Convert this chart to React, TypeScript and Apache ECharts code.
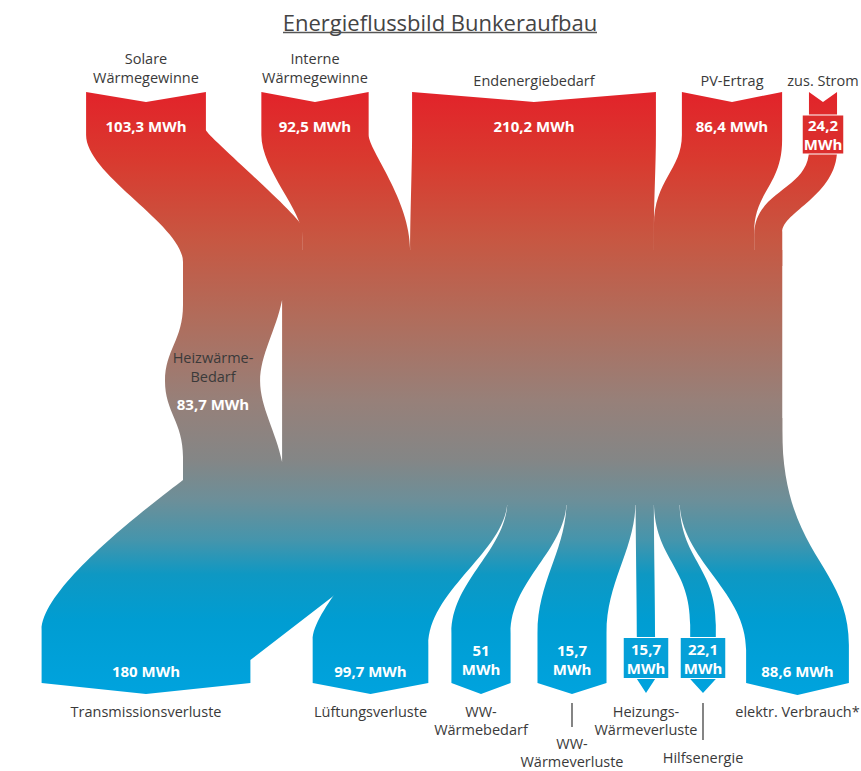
import React, { useEffect, useRef } from "react";
import * as echarts from "echarts";

// ---------------- data ----------------
const chartTitle = "Energieflussbild Bunkeraufbau";
const unit = "MWh";

const inputNames = ["Solare\nWärmegewinne", "Interne\nWärmegewinne", "Endenergiebedarf", "PV-Ertrag", "zus. Strom"];
const inputValues = [103.3, 92.5, 210.2, 86.4, 24.2];

const heatDemandName = "Heizwärme-\nBedarf";
const heatDemandValue = 83.7;

const outputNames = [
  "Transmissionsverluste",
  "Lüftungsverluste",
  "WW-\nWärmebedarf",
  "WW-\nWärmeverluste",
  "Heizungs-\nWärmeverluste",
  "Hilfsenergie",
  "elektr. Verbrauch*",
];
const outputValues = [180, 99.7, 51, 15.7, 15.7, 22.1, 88.6];

// ---------------- layout / style ----------------
const W = 861;
const H = 771;
const FONT = '"Open Sans", "Noto Sans", "DejaVu Sans", sans-serif';
const NAME_COLOR = "#3a3a3a";
const K = 1.16; // axis units per MWh
const TRUNK_LEFT = 183;
const TRUNK_TOP = 250;
const TRUNK_BOTTOM = 505;
const RIB_END = 266;
const TOP_Y = 92;
const TOP_DIP = 102;
const HEIZ_BULGE = 18;
const HEIZ_LABEL_X = 213;

type Edge = { ya: number; yb: number; d1: number; d2: number; dx1?: number; knee?: number };

const inCenters = [146, 315, 534, 732, 823];
const inLeft: Edge[] = [
  { ya: 135, yb: 262, d1: 40, d2: 37 },
  { ya: 135, yb: 238, d1: 35, d2: 28 },
  { ya: 135, yb: 250, d1: 30, d2: 30 },
  { ya: 135, yb: 225, d1: 35, d2: 45 },
  { ya: 150, yb: 235, d1: 40, d2: 45 },
];
const inRight: Edge[] = [
  { ya: 130, yb: 228, d1: 5, d2: 10 },
  { ya: 135, yb: 250, d1: 15, d2: 50 },
  { ya: 135, yb: 230, d1: 30, d2: 30 },
  { ya: 140, yb: 232, d1: 45, d2: 40 },
  { ya: 150, yb: 232, d1: 45, d2: 20 },
];
const inNameY = [67.5, 67.5, 80, 80, 80];
const inValueY = [126, 126, 126, 126, 134.5];
const inValueBreak = [false, false, false, false, true];

const outCenters = [146, 370.5, 481, 572, 646, 703, 797.5];
const FILL_INDEX = 3; // this output takes the remaining trunk width
const outLeft: Edge[] = [
  { ya: 480, yb: 630, d1: 18, d2: 45, dx1: -23 },
  { ya: 480, yb: 640, d1: 60, d2: 35 },
  { ya: 500, yb: 633, d1: 50, d2: 53 },
  { ya: 500, yb: 633, d1: 50, d2: 53 },
  { ya: 500, yb: 640, d1: 40, d2: 40 },
  { ya: 500, yb: 625, d1: 60, d2: 60 },
  { ya: 500, yb: 650, d1: 60, d2: 60 },
];
const outRight: Edge[] = [
  { ya: 480, yb: 660, d1: 0, d2: 0, knee: 551 },
  { ya: 500, yb: 645, d1: 50, d2: 55 },
  { ya: 500, yb: 633, d1: 50, d2: 53 },
  { ya: 500, yb: 633, d1: 50, d2: 53 },
  { ya: 500, yb: 640, d1: 40, d2: 40 },
  { ya: 500, yb: 625, d1: 60, d2: 60 },
  { ya: 430, yb: 645, d1: 125, d2: 80 },
];
const outCornerY = [683, 683, 683, 683, 679, 679, 683];
const outTipY = [694, 694, 694, 694, 693, 693, 695];
const outValueY = [671, 671, 659.5, 659.5, 658, 658, 671];
const outValueBreak = [false, false, true, true, true, true, false];
const outValueBox = [false, false, false, false, true, true, false];
const outNameY = [711, 711, 711, 743, 711, 757, 711];
const NAME_LH = 18.5;
const outConnector = [0, 0, 0, 24, 0, 37, 0];

const GRAD_Y0 = 92;
const GRAD_Y1 = 695;
const gradStops = [
  { offset: 0, color: "#e2232a" },
  { offset: 0.113, color: "#d93a2f" },
  { offset: 0.245, color: "#c75742" },
  { offset: 0.378, color: "#b06d5c" },
  { offset: 0.511, color: "#978079" },
  { offset: 0.61, color: "#848686" },
  { offset: 0.677, color: "#6c8f99" },
  { offset: 0.743, color: "#4595ac" },
  { offset: 0.8, color: "#0e98c3" },
  { offset: 0.876, color: "#009dd2" },
  { offset: 1, color: "#00a3de" },
];

// ---------------- helpers ----------------
const sum = (a: number[]) => a.reduce((s, v) => s + v, 0);
const fmt = (v: number) => String(v).replace(".", ",");

function pt(api: any, x: number, y: number) {
  const c = api.coord([x, y]);
  return c[0].toFixed(2) + " " + c[1].toFixed(2);
}

function grad(api: any) {
  const a = api.coord([0, GRAD_Y0])[1];
  const b = api.coord([0, GRAD_Y1])[1];
  return new echarts.graphic.LinearGradient(0, a, 0, b, gradStops, true);
}

function txt(
  api: any,
  x: number,
  y: number,
  text: string,
  o: { size: number; color: string; weight?: string; lh?: number; va?: string; bg?: string; border?: string; pad?: number[] }
) {
  const c = api.coord([x, y]);
  const style: any = {
    text,
    fill: o.color,
    fontSize: o.size,
    fontWeight: o.weight || "normal",
    fontFamily: FONT,
    align: "center",
    verticalAlign: o.va || "middle",
    lineHeight: o.lh || Math.round(o.size * 1.3),
  };
  if (o.bg) {
    style.backgroundColor = o.bg;
    style.padding = o.pad || [0, 1];
    if (o.border) {
      style.borderColor = o.border;
      style.borderWidth = 1;
    }
  }
  return { type: "text", x: c[0], y: c[1], z2: 50, style };
}

const outSlots: number[][] = (() => {
  const res: number[][] = [];
  let x = TRUNK_LEFT;
  for (let i = 0; i < FILL_INDEX; i++) {
    res[i] = [x, x + outputValues[i] * K];
    x += outputValues[i] * K;
  }
  let xr = TRUNK_LEFT + sum(inputValues) * K;
  for (let i = outputValues.length - 1; i > FILL_INDEX; i--) {
    res[i] = [xr - outputValues[i] * K, xr];
    xr -= outputValues[i] * K;
  }
  res[FILL_INDEX] = [x, xr];
  return res;
})();

// ---------------- render functions ----------------
const renderInput = (params: any, api: any) => {
  const i = params.dataIndex;
  const v = api.value(1);
  const w = v * K;
  const cx = inCenters[i];
  const x0 = cx - w / 2;
  const x1 = cx + w / 2;
  const s0 = TRUNK_LEFT + sum(inputValues.slice(0, i)) * K;
  const s1 = s0 + w;
  const L = inLeft[i];
  const R = inRight[i];
  const d =
    `M${pt(api, x0, TOP_Y)} L${pt(api, cx, TOP_DIP)} L${pt(api, x1, TOP_Y)} L${pt(api, x1, R.ya)} ` +
    `C${pt(api, x1, R.ya + R.d1)} ${pt(api, s1, R.yb - R.d2)} ${pt(api, s1, R.yb)} ` +
    `L${pt(api, s1, RIB_END)} L${pt(api, s0, RIB_END)} L${pt(api, s0, L.yb)} ` +
    `C${pt(api, s0, L.yb - L.d2)} ${pt(api, x0, L.ya + L.d1)} ${pt(api, x0, L.ya)} Z`;
  const brk = inValueBreak[i];
  return {
    type: "group",
    children: [
      { type: "path", shape: { pathData: d }, style: { fill: grad(api) } },
      txt(api, cx, inNameY[i], inputNames[i], { size: 14.5, color: NAME_COLOR, lh: 19 }),
      txt(api, cx, inValueY[i], fmt(v) + (brk ? "\n" : " ") + unit, {
        size: 15,
        weight: "bold",
        color: "#ffffff",
        lh: 19,
        bg: brk ? "#dc2d2c" : undefined,
        border: brk ? "#ffffff" : undefined,
        pad: [0, 1],
      }),
    ],
  };
};

const renderTrunk = (params: any, api: any) => {
  const v = api.value(1);
  const right = TRUNK_LEFT + sum(inputValues) * K;
  const heizRight = TRUNK_LEFT + v * K;
  const bx = TRUNK_LEFT - HEIZ_BULGE;
  const body =
    `M${pt(api, TRUNK_LEFT, TRUNK_TOP)} L${pt(api, right, TRUNK_TOP)} L${pt(api, right, TRUNK_BOTTOM)} ` +
    `L${pt(api, TRUNK_LEFT, TRUNK_BOTTOM)} L${pt(api, TRUNK_LEFT, 457)} ` +
    `C${pt(api, TRUNK_LEFT, 422)} ${pt(api, bx, 412)} ${pt(api, bx, 381)} ` +
    `C${pt(api, bx, 350)} ${pt(api, TRUNK_LEFT, 340)} ${pt(api, TRUNK_LEFT, 305)} Z`;
  const lx = heizRight + 2;
  const lens =
    `M${pt(api, lx, 300)} C${pt(api, lx - 6, 330)} ${pt(api, lx - 22, 355)} ${pt(api, lx - 22, 381)} ` +
    `C${pt(api, lx - 22, 407)} ${pt(api, lx - 6, 432)} ${pt(api, lx, 462)} Z`;
  const t = api.coord([440, 22]);
  const u0 = api.coord([283, 32.5]);
  const u1 = api.coord([597, 32.5]);
  return {
    type: "group",
    children: [
      { type: "path", shape: { pathData: body }, style: { fill: grad(api) } },
      { type: "path", z2: 5, shape: { pathData: lens }, style: { fill: "#ffffff" } },
      txt(api, HEIZ_LABEL_X, 367, heatDemandName, { size: 14.5, color: NAME_COLOR, lh: 19 }),
      txt(api, HEIZ_LABEL_X, 404, fmt(v) + " " + unit, { size: 15, weight: "bold", color: "#ffffff" }),
      {
        type: "text",
        x: t[0],
        y: t[1],
        z2: 50,
        style: {
          text: chartTitle,
          fill: "#444444",
          fontSize: 22,
          fontFamily: FONT,
          align: "center",
          verticalAlign: "middle",
        },
      },
      {
        type: "line",
        z2: 50,
        shape: { x1: u0[0], y1: u0[1], x2: u1[0], y2: u1[1] },
        style: { stroke: "#555555", lineWidth: 1.3 },
      },
    ],
  };
};

const renderOutput = (params: any, api: any) => {
  const i = params.dataIndex;
  const v = api.value(1);
  const [s0, s1] = outSlots[i];
  const w = i === FILL_INDEX ? s1 - s0 : v * K;
  const c = outCenters[i];
  const b0 = c - w / 2;
  const b1 = c + w / 2;
  const L = outLeft[i];
  const R = outRight[i];
  const top = Math.min(L.ya, R.ya) - 12;
  let d = `M${pt(api, s0, top)} L${pt(api, s1, top)} L${pt(api, s1, R.ya)} `;
  if (R.knee != null) d += `L${pt(api, s1, R.knee)} L${pt(api, b1, R.yb)} `;
  else d += `C${pt(api, s1 + (R.dx1 || 0), R.ya + R.d1)} ${pt(api, b1, R.yb - R.d2)} ${pt(api, b1, R.yb)} `;
  d += `L${pt(api, b1, outCornerY[i])} L${pt(api, c, outTipY[i])} L${pt(api, b0, outCornerY[i])} L${pt(api, b0, L.yb)} `;
  d += `C${pt(api, b0, L.yb - L.d2)} ${pt(api, s0 + (L.dx1 || 0), L.ya + L.d1)} ${pt(api, s0, L.ya)} Z`;

  const brk = outValueBreak[i];
  const boxed = outValueBox[i];
  const children: any[] = [
    { type: "path", shape: { pathData: d }, style: { fill: grad(api) } },
    txt(api, c, outValueY[i], fmt(v) + (brk ? "\n" : " ") + unit, {
      size: 15,
      weight: "bold",
      color: "#ffffff",
      lh: 19,
      bg: boxed ? "#05a0d8" : undefined,
      border: boxed ? "#ffffff" : undefined,
      pad: [1, 3],
    }),
    txt(api, c, outNameY[i] - NAME_LH / 2, outputNames[i], {
      size: 14.5,
      color: NAME_COLOR,
      lh: NAME_LH,
      va: "top",
    }),
  ];
  if (outConnector[i] > 0) {
    const a = api.coord([c, 703]);
    const b = api.coord([c, 703 + outConnector[i]]);
    children.push({
      type: "line",
      z2: 50,
      shape: { x1: a[0], y1: a[1], x2: b[0], y2: b[1] },
      style: { stroke: "#333333", lineWidth: 1.2 },
    });
  }
  return { type: "group", children };
};

function buildOption(): any {
  return {
    animation: false,
    backgroundColor: "#ffffff",
    grid: { left: 0, right: 0, top: 0, bottom: 0 },
    xAxis: { type: "value", min: 0, max: W, show: false },
    yAxis: { type: "value", min: 0, max: H, inverse: true, show: false },
    series: [
      {
        type: "custom",
        name: "inputs",
        coordinateSystem: "cartesian2d",
        silent: true,
        renderItem: renderInput,
        data: inputValues.map((v, i) => [i, v]),
      },
      {
        type: "custom",
        name: "heat demand",
        coordinateSystem: "cartesian2d",
        silent: true,
        renderItem: renderTrunk,
        data: [[0, heatDemandValue]],
      },
      {
        type: "custom",
        name: "outputs",
        coordinateSystem: "cartesian2d",
        silent: true,
        renderItem: renderOutput,
        data: outputValues.map((v, i) => [i, v]),
      },
    ],
  };
}

export default function App() {
  const ref = useRef<HTMLDivElement>(null);
  useEffect(() => {
    if (!ref.current) return;
    const chart = echarts.init(ref.current, null, { renderer: "svg" });
    chart.setOption(buildOption());
    return () => chart.dispose();
  }, []);
  return (
    <div
      ref={ref}
      style={{ position: "absolute", left: 0, top: 0, width: W, height: H, background: "#fff" }}
    />
  );
}
